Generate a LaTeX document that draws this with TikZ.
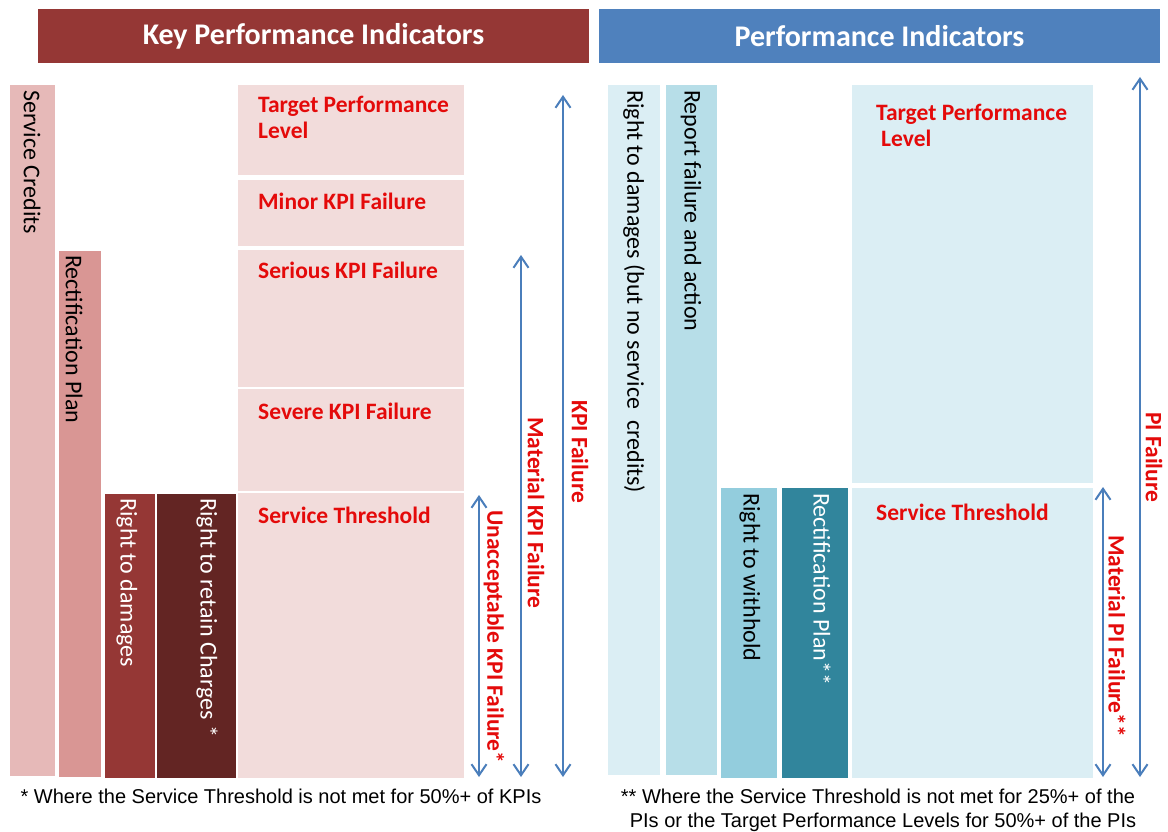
\documentclass[tikz,border=0pt]{standalone}
\usepackage{fontspec}
\setmainfont{Carlito}
\newfontfamily\arialf{Liberation Sans}
\usetikzlibrary{arrows.meta}
\definecolor{kpihead}{RGB}{149,55,53}
\definecolor{pihead}{RGB}{79,129,189}
\definecolor{scbar}{RGB}{230,185,184}
\definecolor{rpbar}{RGB}{217,150,148}
\definecolor{rdbar}{RGB}{149,55,53}
\definecolor{rcbar}{RGB}{99,37,35}
\definecolor{kbox}{RGB}{242,220,219}
\definecolor{pbox}{RGB}{219,238,244}
\definecolor{pdbar}{RGB}{219,238,244}
\definecolor{repbar}{RGB}{183,222,232}
\definecolor{whbar}{RGB}{147,205,221}
\definecolor{rectbar}{RGB}{49,133,156}
\definecolor{kred}{RGB}{228,10,10}
\definecolor{arrc}{RGB}{74,126,187}
\begin{document}
\begin{tikzpicture}[x=1pt,y=-1pt,
  blk/.style={inner sep=0pt, outer sep=0pt, anchor=north west, draw=none},
  hdr/.style={blk, text=white, font=\fontsize{30}{36}\selectfont\bfseries},
  vtext/.style={rotate=-90, anchor=west, inner sep=0pt, font=\fontsize{24}{28}\selectfont},
  rlab/.style={anchor=base west, inner sep=0pt, text=kred, font=\fontsize{23.5}{28}\selectfont\bfseries},
  alab/.style={rotate=-90, anchor=west, inner sep=0pt, text=kred, font=\fontsize{23.5}{28}\selectfont\bfseries},
  arr/.style={draw=arrc, line width=2pt, {Straight Barb[length=11pt,width=15pt]}-{Straight Barb[length=11pt,width=15pt]}},
  foot/.style={anchor=base, inner sep=0pt, font=\arialf\fontsize{20}{24}\selectfont}]
\useasboundingbox[fill=white] (0,0) rectangle (1168,832);

% headers
\node[hdr, fill=kpihead, minimum width=551pt, minimum height=54pt] (hk) at (38,9) {Key Performance Indicators};
\node[hdr, fill=pihead, minimum width=561pt, minimum height=54pt] (hp) at (599,9) {Performance Indicators};

% ---------- left side ----------
\node[blk, fill=scbar, minimum width=45pt, minimum height=691pt] (sc) at (10,85) {};
\node[blk, fill=rpbar, minimum width=42pt, minimum height=526pt] (rp) at (59,251) {};
\node[blk, fill=rdbar, minimum width=50pt, minimum height=284pt] (rd) at (105,494) {};
\node[blk, fill=rcbar, minimum width=79pt, minimum height=284pt] (rc) at (157,494) {};

\node[blk, fill=kbox, minimum width=226pt, minimum height=90pt] (tpl) at (238,85) {};
\node[blk, fill=kbox, minimum width=226pt, minimum height=66pt] (minor) at (238,180) {};
\node[blk, fill=kbox, minimum width=226pt, minimum height=137pt] (serious) at (238,250) {};
\node[blk, fill=kbox, minimum width=226pt, minimum height=102pt] (severe) at (238,389) {};
\node[blk, fill=kbox, minimum width=226pt, minimum height=285pt] (thr) at (238,493) {};

\node[vtext] (tsc) at (32,90) {Service Credits};
\node[vtext] (trp) at (74,255) {Rectification Plan};
\node[vtext, text=white] (trd) at (127,498) {Right to damages};
\node[vtext, text=white] (trc) at (207,498) {Right to retain Charges *};

\node[rlab] (ltpl1) at (258,113) {Target Performance};
\node[rlab] (ltpl2) at (258,139) {Level};
\node[rlab] (lminor) at (258,209) {Minor KPI Failure};
\node[rlab] (lserious) at (258,278) {Serious KPI Failure};
\node[rlab] (lsevere) at (258,419) {Severe KPI Failure};
\node[rlab] (lthr) at (258,523) {Service Threshold};

\coordinate (ua) at (479,495); \coordinate (ub) at (479,777);
\coordinate (ma) at (521,255); \coordinate (mb) at (521,777);
\coordinate (ka) at (563,95);  \coordinate (kb) at (563,777);
\draw[arr] (ua) -- (ub);
\draw[arr] (ma) -- (mb);
\draw[arr] (ka) -- (kb);
\node[alab] (lua) at (494,510) {Unacceptable KPI Failure*};
\node[alab] (lma) at (536,417) {Material KPI Failure};
\node[alab] (lka) at (580,400) {KPI Failure};

\node[foot] (f1) at (281,803) {* Where the Service Threshold is not met for 50\%+ of KPIs};

% ---------- right side ----------
\node[blk, fill=pdbar, minimum width=52pt, minimum height=690pt] (pd) at (608,85) {};
\node[blk, fill=repbar, minimum width=51pt, minimum height=690pt] (rep) at (666,85) {};
\node[blk, fill=whbar, minimum width=56pt, minimum height=290pt] (wh) at (721,488) {};
\node[blk, fill=rectbar, minimum width=66pt, minimum height=290pt] (rect) at (782,488) {};
\node[blk, fill=pbox, minimum width=241pt, minimum height=398pt] (ptpl) at (852,85) {};
\node[blk, fill=pbox, minimum width=241pt, minimum height=290pt] (pthr) at (852,488) {};

\node[vtext] (tpd) at (634,90) {Right to damages (but no service \ credits)};
\node[vtext] (trep) at (691,90) {Report failure and action};
\node[vtext] (twh) at (750,493) {Right to withhold};
\node[vtext, text=white] (trect) at (822,493) {Rectification Plan**};

\node[rlab] (rtpl1) at (876,121) {Target Performance};
\node[rlab] (rtpl2) at (881,147) {Level};
\node[rlab] (rthr) at (876,520) {Service Threshold};

\coordinate (mpa) at (1103,487); \coordinate (mpb) at (1103,777);
\coordinate (pa) at (1140,77);   \coordinate (pb) at (1140,777);
\draw[arr] (mpa) -- (mpb);
\draw[arr] (pa) -- (pb);
\node[alab] (lmp) at (1117,535) {Material PI Failure**};
\node[alab] (lpf) at (1154,412) {PI Failure};

\node[foot] (f2a) at (878,803) {** Where the Service Threshold is not met for 25\%+ of the};
\node[foot] (f2b) at (883,827) {PIs or the Target Performance Levels for 50\%+ of the PIs};
\end{tikzpicture}
\end{document}
